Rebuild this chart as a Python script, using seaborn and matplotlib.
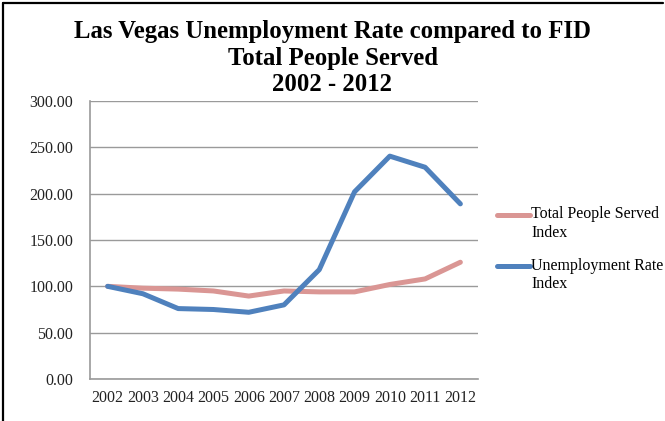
import matplotlib
matplotlib.use("Agg")
import matplotlib.pyplot as plt
from matplotlib.lines import Line2D
from matplotlib.legend_handler import HandlerLine2D
from matplotlib.ticker import FixedLocator, FixedFormatter
import seaborn as sns
import pandas as pd
import numpy as np

# Index values (2002 = 100)
years = ["2002", "2003", "2004", "2005", "2006", "2007", "2008", "2009", "2010", "2011", "2012"]
people_served = [100, 98, 97, 95, 89.5, 95, 94, 94, 102, 108, 126]
unemployment = [100, 92, 76, 75, 72, 80, 118, 202, 240.5, 228.5, 189]
series_names = ["Total People Served\nIndex", "Unemployment Rate\nIndex"]
y_ticks = [0, 50, 100, 150, 200, 250, 300]

sns.set_theme(style="white")
plt.rcParams["font.family"] = ["Liberation Serif", "DejaVu Serif"]
plt.rcParams["text.color"] = "black"
plt.rcParams["xtick.color"] = "#222222"
plt.rcParams["ytick.color"] = "#222222"

pos = np.arange(len(years))
df = pd.DataFrame({
    "pos": np.concatenate([pos, pos]),
    "value": people_served + unemployment,
    "series": [series_names[0]] * len(years) + [series_names[1]] * len(years),
})


class FirstLineHandler(HandlerLine2D):
    """Legend handle aligned with the first line of a two-line label."""

    def __init__(self, shift, **kw):
        super().__init__(**kw)
        self.shift = shift

    def create_artists(self, *args, **kwargs):
        artists = super().create_artists(*args, **kwargs)
        for a in artists:
            if isinstance(a, Line2D):
                a.set_ydata(np.asarray(a.get_ydata(), dtype=float) + self.shift)
        return artists


fig = plt.figure(figsize=(6.65, 4.21), dpi=100)
ax = fig.add_axes([90 / 665, 1 - 379 / 421, (478 - 90) / 665, (379 - 101) / 421])

sns.lineplot(data=df, x="pos", y="value", hue="series", hue_order=series_names,
             palette=["#DA9694", "#4F81BD"], linewidth=3.6, ax=ax,
             solid_capstyle="round", legend=True)

ax.set_xlim(-0.5, len(years) - 0.5)
ax.set_ylim(0, 300)
ax.set_yticks(y_ticks)
ax.set_yticklabels([f"{v:.2f}" for v in y_ticks], fontsize=11.5)
ax.yaxis.grid(True, color="#9a9a9a", linewidth=1.0)
ax.set_axisbelow(True)

# category labels centred between boundary tick marks
ax.xaxis.set_major_locator(FixedLocator(np.arange(-0.5, len(years), 1.0)))
ax.xaxis.set_major_formatter(FixedFormatter([""] * (len(years) + 1)))
ax.xaxis.set_minor_locator(FixedLocator(pos))
ax.xaxis.set_minor_formatter(FixedFormatter(years))
ax.tick_params(axis="x", which="major", direction="out", length=4, color="#9a9a9a", width=1)
ax.tick_params(axis="x", which="minor", length=0, labelsize=11.5, pad=8)
ax.tick_params(axis="y", direction="out", length=5, color="#9a9a9a", width=1, pad=7)
ax.set_xlabel("")
ax.set_ylabel("")

for side in ["top", "right"]:
    ax.spines[side].set_visible(False)
for side in ["left", "bottom"]:
    ax.spines[side].set_color("#9a9a9a")
    ax.spines[side].set_linewidth(1.2)

handles, labels = ax.get_legend_handles_labels()
leg = ax.legend(handles, labels, loc="upper left", bbox_to_anchor=(1.032, 0.644), frameon=False,
                fontsize=11.5, handlelength=2.05, handletextpad=0.12,
                labelspacing=1.05, borderaxespad=0,
                handler_map={h: FirstLineHandler(6.5) for h in handles})
for line in leg.get_lines():
    line.set_linewidth(3.6)

fig.text(0.5, 1 - 20 / 421,
         "Las Vegas Unemployment Rate compared to FID\nTotal People Served\n2002 - 2012",
         ha="center", va="top", fontsize=17.8, fontweight="bold", linespacing=1.2)

# frame along the top and left edges of the figure
fig.add_artist(Line2D([3 / 665, 3 / 665], [0, 1 - 3 / 421], transform=fig.transFigure,
                      color="black", linewidth=1.6))
fig.add_artist(Line2D([3 / 665, 663 / 665], [1 - 3 / 421, 1 - 3 / 421], transform=fig.transFigure,
                      color="black", linewidth=1.6))

fig.savefig("out.png", dpi=100, facecolor="white")
